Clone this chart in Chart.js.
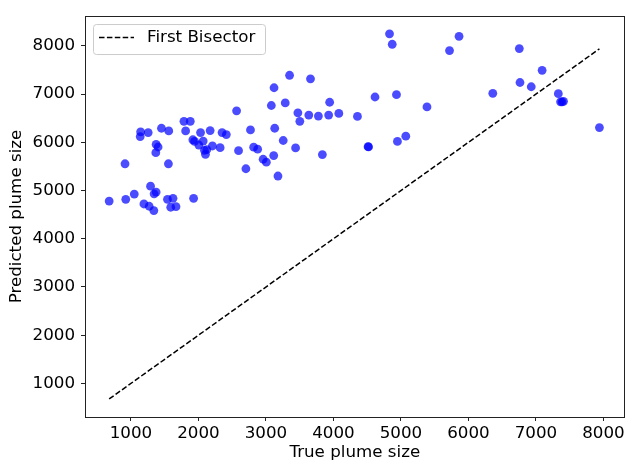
<!DOCTYPE html>
<html>
<head>
<meta charset="utf-8">
<script src="https://cdn.jsdelivr.net/npm/chart.js@4.4.1/dist/chart.umd.min.js"></script>
<style>
  body { margin: 0; background: #fff; }
  #box { width: 629px; height: 463px; }
</style>
</head>
<body>
<div id="box"><canvas id="chart"></canvas></div>
<script>
// values
const trueSize = [
  2565, 1785, 1879, 1143, 1255, 1137, 1452, 1560, 1810, 2031, 2173, 2350, 2413, 2771,
  1373, 1402, 1368, 1917, 1942, 2070, 2006, 2207, 2321, 2089, 2123, 2104, 2594,
  912, 1555, 2703, 1290, 1373, 1343, 1049, 677, 923, 1192, 1270, 1339, 1541, 1623,
  1589, 1667, 1928,
  3350, 3660, 3120, 3080, 3286, 3944, 4616, 3473, 3635, 3777, 3929, 4080, 4356, 3502,
  3130, 3256, 3439, 2818, 2877, 3115, 2958, 3006, 3836, 4513, 4520, 3178,
  4831, 4871, 5861, 5720, 4934, 5386, 6361, 5072, 4948,
  6754, 7092, 6764, 6931, 7332, 7387, 7365, 7409, 7941
];
const predictedSize = [
  6654, 6437, 6437, 6218, 6203, 6121, 6293, 6238, 6238, 6203, 6244, 6203, 6162, 6259,
  5957, 5904, 5787, 6054, 6019, 6027, 5945, 5925, 5890, 5834, 5849, 5753, 5828,
  5556, 5556, 5453, 5091, 4968, 4933, 4927, 4783, 4818, 4722, 4675, 4585, 4818, 4839,
  4654, 4667, 4839,
  7392, 7318, 7133, 6765, 6818, 6832, 6941, 6613, 6566, 6545, 6566, 6601, 6539, 6437,
  6293, 6039, 5884, 5900, 5859, 5726, 5650, 5589, 5746, 5910, 5905, 5302,
  8252, 8035, 8199, 7904, 6990, 6736, 7017, 6129, 6019,
  7945, 7494, 7242, 7154, 7010, 6838, 6842, 6852, 6306
];
const bisectorEnds = [677, 7941];
const xTicks = [1000, 2000, 3000, 4000, 5000, 6000, 7000, 8000];
const yTicks = [1000, 2000, 3000, 4000, 5000, 6000, 7000, 8000];

const legendLabel = 'First Bisector';
const lineDash = [5.5, 2.4];
const fontSize = 16.7;

Chart.defaults.font.family = "'DejaVu Sans', sans-serif";
Chart.defaults.font.size = fontSize;
Chart.defaults.color = '#000';

// frame around the plot + matplotlib style legend box
const framePlugin = {
  id: 'frame',
  afterDatasetsDraw(chart) {
    const { ctx, chartArea: a } = chart;
    ctx.save();
    ctx.strokeStyle = '#222';
    ctx.lineWidth = 1;
    ctx.strokeRect(Math.round(a.left) + 0.5, Math.round(a.top) + 0.5,
      Math.round(a.right - a.left) - 1, Math.round(a.bottom - a.top));

    // legend
    const lx = a.left + 8, ly = a.top + 8, lw = 172, lh = 30;
    ctx.beginPath();
    ctx.roundRect(lx + 0.5, ly + 0.5, lw, lh, 3);
    ctx.fillStyle = 'rgba(255,255,255,0.8)';
    ctx.fill();
    ctx.strokeStyle = '#ccc';
    ctx.stroke();

    ctx.beginPath();
    ctx.setLineDash(lineDash);
    ctx.strokeStyle = '#000';
    ctx.lineWidth = 1.5;
    ctx.moveTo(lx + 6, ly + 13.5);
    ctx.lineTo(lx + 41, ly + 13.5);
    ctx.stroke();
    ctx.setLineDash([]);

    ctx.fillStyle = '#000';
    ctx.font = fontSize + "px 'DejaVu Sans', sans-serif";
    ctx.textBaseline = 'middle';
    ctx.fillText(legendLabel, lx + 54, ly + 14);
    ctx.restore();
  }
};

const pointData = trueSize.map((v, i) => ({ x: v, y: predictedSize[i] }));
const lineData = bisectorEnds.map(v => ({ x: v, y: v }));

const chartBox = document.getElementById('chart');
const chartInstance = new Chart(chartBox, {
  type: 'scatter',
  data: {
    datasets: [
      {
        type: 'line',
        label: legendLabel,
        data: lineData,
        borderColor: '#000',
        borderWidth: 1.5,
        borderDash: lineDash,
        pointRadius: 0,
        fill: false,
        order: 1
      },
      {
        label: 'points',
        data: pointData,
        backgroundColor: 'rgba(0,0,255,0.7)',
        borderWidth: 0,
        pointRadius: 4.4,
        order: 0
      }
    ]
  },
  options: {
    responsive: true,
    maintainAspectRatio: false,
    animation: false,
    layout: { padding: { top: 11, right: 1, left: 0, bottom: 0 } },
    plugins: {
      legend: { display: false },
      tooltip: { enabled: false }
    },
    scales: {
      x: {
        type: 'linear',
        min: 319,
        max: 8314,
        afterBuildTicks: s => { s.ticks = xTicks.map(v => ({ value: v })); },
        afterFit: s => { s.height = 46; },
        grid: { drawOnChartArea: false, drawTicks: true, tickLength: 4, color: '#222' },
        border: { display: false },
        ticks: { padding: 3, maxRotation: 0, autoSkip: false, callback: v => String(v) },
        title: { display: true, text: 'True plume size', padding: { top: 0, bottom: 0 } }
      },
      y: {
        type: 'linear',
        min: 303,
        max: 8621,
        afterBuildTicks: s => { s.ticks = yTicks.map(v => ({ value: v })); },
        afterFit: s => { s.width = 85; },
        grid: { drawOnChartArea: false, drawTicks: true, tickLength: 4, color: '#222' },
        border: { display: false },
        ticks: { padding: 6, autoSkip: false, callback: v => String(v) },
        title: { display: true, text: 'Predicted plume size', padding: { top: 7, bottom: 0 } }
      }
    }
  },
  plugins: [framePlugin]
});
</script>
</body>
</html>
